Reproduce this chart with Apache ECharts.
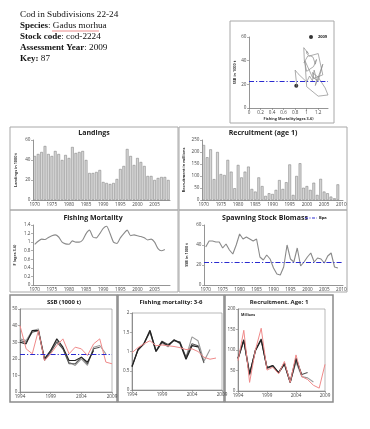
<!DOCTYPE html>
<html><head><meta charset="utf-8">
<script src="https://cdn.jsdelivr.net/npm/echarts@6/dist/echarts.min.js"></script>
<style>html,body{margin:0;padding:0;background:#fff}#c{width:370px;height:429px}</style>
</head><body><div id="c"></div>
<script>
// ---------- data ----------
const yearsMain = [];   // 1970-2009
for (let y = 1970; y <= 2009; y++) yearsMain.push(String(y));
const yearsRec = [];    // 1970-2010
for (let y = 1970; y <= 2010; y++) yearsRec.push(String(y));

const landings = [44,46,48,54,46,44,49,46,40,45, 42,53,47,48,49,40,27,27,28,30,
                  18,17,16,17,21,31,34,51,44,35, 42,38,34,24,24,20,22,23,23,20];
const recruitment = [229,178,211,87,200,108,104,167,118,49, 146,94,118,139,46,35,94,58,17,28,
                     25,42,83,46,74,148,21,100,153,51, 58,42,72,21,88,35,28,14,7,65];
const fishingMortality = [0.95,1.02,1.07,1.06,1.11,1.15,1.17,1.12,1.0,0.96,
                          0.95,1.03,1.0,1.0,1.05,1.2,1.28,1.12,1.1,1.2,
                          1.32,1.37,1.2,1.0,0.97,1.1,1.2,1.28,1.15,1.17,
                          1.15,1.13,1.1,1.05,1.07,1.0,0.85,0.8,0.83];
const ssb = [38,44,44,43,43,37,41,35,31,40, 51,46,48,46,44,46,28,25,30,26,
             17,11,10,18,40,26,23,37,19,23, 28,32,23,27,26,22,29,32,18,17];
const bpa = 23;
const point2009 = [0.82, 18.7];

// retrospective (earlier assessments), starting 1994
const ssbRetroA = [30,29,37,37,20,25,32,27,19,19,21,18,25];
const ssbRetroB = [31,30,36,37,19,24,30,26,17,17,21,17,26,27];
const ssbRetroC = [32,31,37,38,20,25,31,26,18,16,20,16,27,28,23];
const fRetroA = [0.6,1.05,1.2,1.55,1.0,1.25,1.15,1.3,1.22,0.8,1.15,1.12];
const fRetroB = [0.62,1.03,1.22,1.52,1.02,1.27,1.18,1.28,1.25,0.85,1.2,1.15,0.7];
const fRetroC = [0.63,1.05,1.2,1.5,1.0,1.22,1.12,1.3,1.2,0.85,1.38,1.28,0.75,1.05];
const rRetroA = [80,125,42,98,125,57,62,45,67,22,80,38];
const rRetroB = [78,122,40,100,127,55,62,44,65,20,75,40,45];
const rRetroC = [80,124,38,100,126,56,60,45,68,22,70,35,32,22];
const retroStart = 1994;

// ---------- helpers ----------
const pairsFrom = (arr, start) => arr.map((v, i) => [start + i, v]);
const idx94 = yearsMain.indexOf('1994');
const trajectory = fishingMortality.map((f, i) => [f, ssb[i]]);

const FONT = 'Open Sans';
const axisLineS = {lineStyle: {color: '#7a7a7a', width: 0.8}};
const tickS = {length: 2, lineStyle: {color: '#7a7a7a', width: 0.6}};
const lblS = {fontSize: 4.6, color: '#444', margin: 2.5, fontFamily: FONT};
const nameS = {fontSize: 3.8, fontWeight: 'bold', color: '#333', fontFamily: FONT};
const blueLine = {color: '#2a2ad0', width: 1.1, type: [5, 2, 1.2, 2]};
const bpaMark = {silent: true, symbol: 'none', label: {show: false},
                 lineStyle: blueLine, data: [{yAxis: bpa}]};

function catX(gi, data) {
  return {type: 'category', gridIndex: gi, data: data,
    axisLine: axisLineS, axisTick: {...tickS, interval: 4, alignWithLabel: true},
    axisLabel: {...lblS, interval: 4}, splitLine: {show: false}};
}
function valY(gi, max, interval, name, gap) {
  return {type: 'value', gridIndex: gi, min: 0, max: max, interval: interval,
    name: name, nameLocation: 'middle', nameGap: gap, nameTextStyle: nameS,
    axisLine: {show: true, ...axisLineS}, axisTick: {show: true, ...tickS},
    axisLabel: lblS, splitLine: {show: false}};
}
function yearX(gi) {
  return {type: 'value', gridIndex: gi, min: 1994, max: 2009, interval: 5,
    axisLine: axisLineS, axisTick: tickS,
    axisLabel: {...lblS, formatter: v => String(v)}, splitLine: {show: false}};
}
const frame = {show: true, borderColor: '#8a8a8a', borderWidth: 0.6, backgroundColor: 'transparent'};

function rline(gi, data, color, w) {
  return {type: 'line', xAxisIndex: gi, yAxisIndex: gi, data: data, symbol: 'none',
    lineStyle: {color: color, width: w}, itemStyle: {color: color}, silent: true};
}

// ---------- chart ----------
const chart = echarts.init(document.getElementById('c'), null, {renderer: 'canvas'});

const boxMid = {fill: 'none', stroke: '#a8a8a8', lineWidth: 1};
const boxLow = {fill: 'none', stroke: '#8c8c8c', lineWidth: 1.5};
function rect(x, y, w, h, s) { return {type: 'rect', shape: {x, y, width: w, height: h}, style: s, silent: true}; }
function title(x, y, t, size) {
  return {type: 'text', x: x, y: y, style: {text: t, fontSize: size, fontWeight: 'bold',
    fontFamily: FONT, fill: '#222', align: 'center', verticalAlign: 'middle'}};
}
const serif = 'Liberation Serif';
const head = (y, t) => ({type: 'text', x: 20, y: y, style: {text: t, fontSize: 9.2, fontFamily: serif,
  fill: '#111', verticalAlign: 'middle', rich: {b: {fontWeight: 'bold', fontSize: 9, fontFamily: serif, fill: '#111'}}}});

chart.setOption({
  animation: false,
  backgroundColor: '#fff',
  grid: [
    {left: 249, top: 37, width: 79, height: 71},
    {left: 33, top: 140, width: 137, height: 60},
    {left: 202, top: 140, width: 141, height: 60},
    {left: 33, top: 225, width: 137, height: 60},
    {left: 204, top: 225, width: 139, height: 60},
    {left: 20, top: 309, width: 92, height: 83, ...frame},
    {left: 132, top: 313, width: 90, height: 77, ...frame},
    {left: 238, top: 309, width: 87, height: 82, ...frame}
  ],
  xAxis: [
    {type: 'value', gridIndex: 0, min: 0, max: 1.37, interval: 0.2,
     name: 'Fishing Mortality(ages 3-6)', nameLocation: 'middle', nameGap: 9, nameTextStyle: nameS,
     axisLine: axisLineS, axisTick: tickS, axisLabel: {...lblS, showMaxLabel: false}, splitLine: {show: false}},
    catX(1, yearsMain), catX(2, yearsRec), catX(3, yearsMain), catX(4, yearsRec),
    yearX(5), yearX(6), yearX(7)
  ],
  yAxis: [
    valY(0, 60, 20, 'SSB in 1000 t', 10),
    valY(1, 60, 20, 'Landings in 1000 t', 15),
    valY(2, 250, 50, 'Recruitment in millions', 16),
    valY(3, 1.4, 0.2, 'F (ages 3-6)', 16),
    valY(4, 60, 20, 'SSB in 1000 t', 15),
    valY(5, 50, 10, '', 0),
    valY(6, 2, 0.5, '', 0),
    valY(7, 200, 50, '', 0)
  ],
  legend: {data: ['2009'], left: 304, top: 30, itemWidth: 4, itemHeight: 4, itemGap: 2,
    textStyle: {fontSize: 4, fontWeight: 'bold', color: '#222', fontFamily: FONT}},
  series: [
    {type: 'line', name: 'trajectory', xAxisIndex: 0, yAxisIndex: 0, data: trajectory, symbol: 'none',
     lineStyle: {color: '#8a8a8a', width: 0.7}, silent: true, markLine: bpaMark},
    {type: 'scatter', name: '2009', xAxisIndex: 0, yAxisIndex: 0, data: [point2009], symbolSize: 4,
     itemStyle: {color: '#000'}},
    {type: 'bar', name: 'Landings', xAxisIndex: 1, yAxisIndex: 1, data: landings, barCategoryGap: '22%',
     itemStyle: {color: '#d6d6d6', borderColor: '#777', borderWidth: 0.5}},
    {type: 'bar', name: 'Recruitment', xAxisIndex: 2, yAxisIndex: 2, data: recruitment, barCategoryGap: '22%',
     itemStyle: {color: '#d6d6d6', borderColor: '#777', borderWidth: 0.5}},
    {type: 'line', name: 'F', xAxisIndex: 3, yAxisIndex: 3, data: fishingMortality, symbol: 'none', smooth: 0.2,
     lineStyle: {color: '#8a8a8a', width: 1.1}},
    {type: 'line', name: 'SSB', xAxisIndex: 4, yAxisIndex: 4, data: ssb, symbol: 'none',
     lineStyle: {color: '#8a8a8a', width: 1.1}, markLine: bpaMark},
    // small SSB
    rline(5, pairsFrom(ssbRetroC, retroStart), '#9a9a9a', 1.1),
    rline(5, pairsFrom(ssbRetroB, retroStart), '#555', 1.1),
    rline(5, pairsFrom(ssbRetroA, retroStart), '#222', 1.1),
    Object.assign(rline(5, pairsFrom(ssb.slice(idx94), 1994), '#f08a8a', 1), {markLine: bpaMark}),
    // small F
    rline(6, pairsFrom(fRetroC, retroStart), '#9a9a9a', 1.1),
    rline(6, pairsFrom(fRetroB, retroStart), '#555', 1.1),
    rline(6, pairsFrom(fRetroA, retroStart), '#222', 1.3),
    rline(6, pairsFrom(fishingMortality.slice(idx94), 1994), '#f08a8a', 1),
    // small recruitment
    rline(7, pairsFrom(rRetroC, retroStart), '#9a9a9a', 1.1),
    rline(7, pairsFrom(rRetroB, retroStart), '#555', 1.1),
    rline(7, pairsFrom(rRetroA, retroStart), '#222', 1.3),
    rline(7, pairsFrom(recruitment.slice(idx94), 1994), '#f08a8a', 1)
  ],
  graphic: [
    head(15, 'Cod in Subdivisions 22-24'),
    head(26, '{b|Species}: Gadus morhua'),
    {type: 'line', shape: {x1: 52, y1: 31, x2: 99, y2: 31}, style: {stroke: '#e04040', lineWidth: 0.6}, silent: true},
    head(37, '{b|Stock code}: cod-2224'),
    head(48, '{b|Assessment Year}: 2009'),
    head(59, '{b|Key:} 87'),
    rect(230, 21, 104, 102, boxMid),
    rect(10, 127, 168, 83, boxMid),
    rect(179, 127, 168, 83, boxMid),
    rect(10, 210, 168, 82, boxMid),
    rect(179, 210, 168, 82, boxMid),
    rect(10, 295, 107, 107, boxLow),
    rect(118, 295, 106, 107, boxLow),
    rect(225, 295, 108, 107, boxLow),
    title(94, 133, 'Landings', 7),
    title(263, 133, 'Recruitment (age 1)', 7),
    title(93, 218, 'Fishing Mortality', 7),
    title(265, 218, 'Spawning Stock Biomass', 7),
    title(64, 302, 'SSB (1000 t)', 6),
    title(171, 302, 'Fishing mortality: 3-6', 6),
    title(279, 302, 'Recruitment. Age: 1', 6),
    {type: 'line', shape: {x1: 305, y1: 218, x2: 317, y2: 218}, style: {stroke: '#2a2ad0', lineWidth: 1.1, lineDash: [3, 1.5, 1, 1.5]}, silent: true},
    {type: 'text', x: 319, y: 218, style: {text: 'Bpa', fontSize: 4, fontWeight: 'bold', fontFamily: FONT, fill: '#222', verticalAlign: 'middle'}},
    {type: 'text', x: 241, y: 315, style: {text: 'Millions', fontSize: 3.6, fontWeight: 'bold', fontFamily: FONT, fill: '#222', verticalAlign: 'middle'}}
  ]
});
</script>
</body></html>
